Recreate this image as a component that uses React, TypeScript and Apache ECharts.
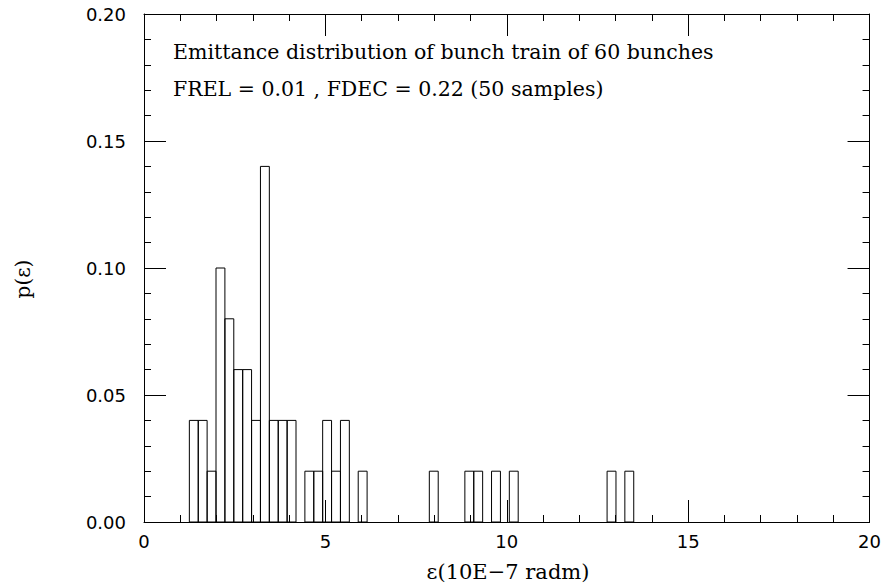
import React, { useEffect, useRef } from "react";
import * as echarts from "echarts";

// Histogram definition (50 bins between min and max of the samples)
const binMin = 1.25;
const binMax = 13.5;
const binCount = 50;
const probabilities = [
  0.04, 0.04, 0.02, 0.10, 0.08, 0.06, 0.06, 0.04, 0.14, 0.04,
  0.04, 0.04, 0.00, 0.02, 0.02, 0.04, 0.02, 0.04, 0.00, 0.02,
  0.00, 0.00, 0.00, 0.00, 0.00, 0.00, 0.00, 0.02, 0.00, 0.00,
  0.00, 0.02, 0.02, 0.00, 0.02, 0.00, 0.02, 0.00, 0.00, 0.00,
  0.00, 0.00, 0.00, 0.00, 0.00, 0.00, 0.00, 0.02, 0.00, 0.02,
];
const annotationLines = [
  "Emittance distribution of bunch train of 60 bunches",
  "FREL = 0.01 , FDEC = 0.22 (50 samples)",
];
const xAxisName = "\u03b5(10E\u22127 radm)";
const yAxisName = "p(\u03b5)";

const serif = "'DejaVu Serif', 'Liberation Serif', serif";
const sans = "'DejaVu Sans', sans-serif";

export default function App() {
  const ref = useRef<HTMLDivElement>(null);
  useEffect(() => {
    if (!ref.current) return;
    const chart = echarts.init(ref.current, undefined, { renderer: "svg" });
    const w = (binMax - binMin) / binCount;
    const data = probabilities.map((p, i) => [binMin + i * w, binMin + (i + 1) * w, p]);

    const axisLine = { show: true, onZero: false, lineStyle: { color: "#000", width: 1 } };
    const tick = { show: true, inside: true, length: 22, lineStyle: { color: "#000", width: 1 } };
    const minor = { show: true, splitNumber: 5, length: 7, lineStyle: { color: "#000", width: 1 } };

    chart.setOption({
      animation: false,
      grid: { left: 144, right: 12, top: 14, bottom: 64 },
      xAxis: [
        {
          type: "value", min: 0, max: 20, interval: 5, position: "bottom",
          axisLine, axisTick: tick, minorTick: minor,
          splitLine: { show: false }, minorSplitLine: { show: false },
          axisLabel: { color: "#000", fontFamily: sans, fontSize: 18, margin: 10 },
        },
        {
          type: "value", min: 0, max: 20, interval: 5, position: "top",
          axisLine, axisTick: tick, minorTick: minor,
          splitLine: { show: false }, axisLabel: { show: false },
        },
      ],
      yAxis: [
        {
          type: "value", min: 0, max: 0.2, interval: 0.05, position: "left",
          axisLine, axisTick: tick, minorTick: minor,
          splitLine: { show: false }, minorSplitLine: { show: false },
          axisLabel: {
            color: "#000", fontFamily: sans, fontSize: 18, margin: 18,
            formatter: (v: number) => v.toFixed(2),
          },
        },
        {
          type: "value", min: 0, max: 0.2, interval: 0.05, position: "right",
          axisLine, axisTick: tick, minorTick: minor,
          splitLine: { show: false }, axisLabel: { show: false },
        },
      ],
      graphic: [
        ...annotationLines.map((t, i) => ({
          type: "text", x: 173, y: 52 + i * 36.5,
          style: { text: t, fill: "#000", font: `20.5px ${serif}`, verticalAlign: "middle" },
        })),
        {
          type: "text", x: 508, y: 572,
          style: { text: xAxisName, fill: "#000", font: `21px ${serif}`, align: "center", verticalAlign: "middle" },
        },
        {
          type: "text", x: 23, y: 279, rotation: Math.PI / 2,
          style: { text: yAxisName, fill: "#000", font: `20px ${serif}`, align: "center", verticalAlign: "middle" },
        },
      ],
      series: [
        {
          type: "custom",
          xAxisIndex: 0, yAxisIndex: 0,
          data,
          encode: { x: [0, 1], y: 2 },
          renderItem: (params: any, api: any) => {
            const h = api.value(2);
            if (!h) return null;
            const p0 = api.coord([api.value(0), h]);
            const p1 = api.coord([api.value(1), 0]);
            return {
              type: "rect",
              shape: { x: p0[0], y: p0[1], width: p1[0] - p0[0], height: p1[1] - p0[1] },
              style: { fill: "none", stroke: "#000", lineWidth: 1 },
            };
          },
        },
      ],
    });
    return () => chart.dispose();
  }, []);
  return (
    <div
      ref={ref}
      style={{ position: "fixed", left: 0, top: 0, width: 884, height: 586, background: "#fff" }}
    />
  );
}
